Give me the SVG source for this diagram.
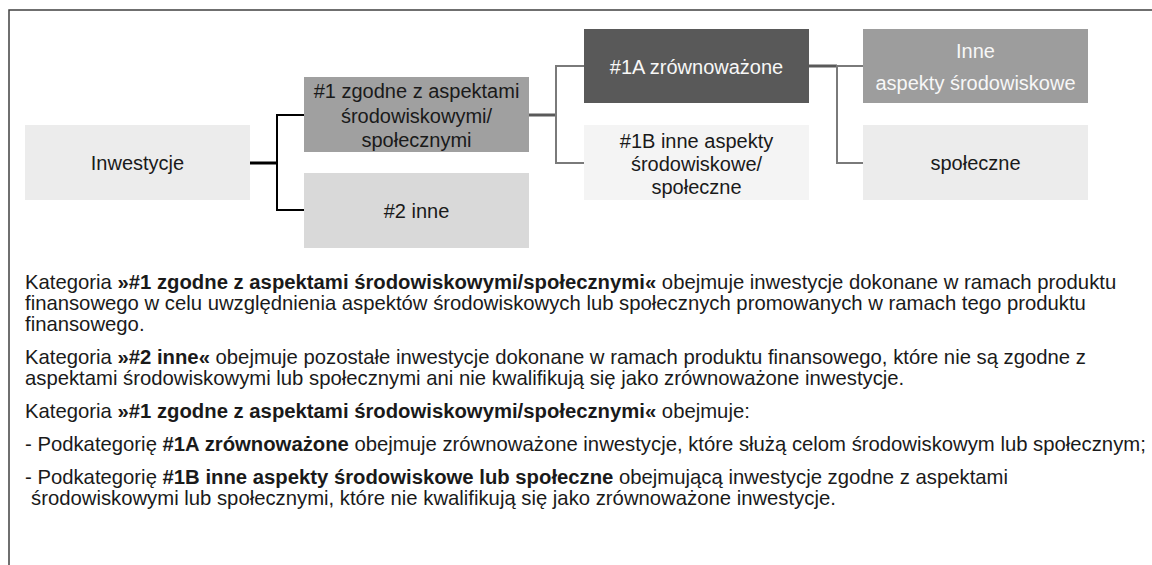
<svg xmlns="http://www.w3.org/2000/svg" width="1152" height="565" viewBox="0 0 1152 565">
<style>
.n{font-family:"Liberation Sans",Arial,sans-serif;font-size:20px;fill:#1a1a1a;text-anchor:middle}
.w{fill:#f7f7f7}
.p{font-family:"Liberation Sans",Arial,sans-serif;font-size:20.3px;fill:#1a1a1a}
.b{font-weight:bold}
.stub{stroke-width:3;fill:none}
.br{stroke-width:2;fill:none}
</style>
<rect width="1152" height="565" fill="#ffffff"/>
<path d="M9 565 V10 H1152" fill="none" stroke="#404040" stroke-width="1.5"/>
<g id="connectors">
<line class="stub" x1="250" y1="163" x2="277" y2="163" stroke="#000"/>
<path class="br" d="M304 115 H277 V210 H304" stroke="#000"/>
<line class="stub" x1="529" y1="115" x2="556" y2="115" stroke="#595959"/>
<path class="br" d="M584 66 H556 V163 H584" stroke="#7a7a7a"/>
<line class="stub" x1="809" y1="66" x2="837" y2="66" stroke="#595959"/>
<path class="br" d="M863 66 H837 V163 H863" stroke="#7a7a7a"/>
</g>
<g id="inwestycje">
<rect x="25" y="125" width="225" height="75" fill="#ececec"/>
<text class="n" x="137.5" y="170">Inwestycje</text>
</g>
<g id="n1">
<rect x="304" y="77" width="225" height="75" fill="#a0a0a0"/>
<text class="n" x="416.5" y="98">#1 zgodne z aspektami</text>
<text class="n" x="416.5" y="123">środowiskowymi/</text>
<text class="n" x="416.5" y="147">społecznymi</text>
</g>
<g id="n2">
<rect x="304" y="173" width="225" height="75" fill="#d9d9d9"/>
<text class="n" x="416.5" y="218">#2 inne</text>
</g>
<g id="n1a">
<rect x="584" y="29" width="225" height="74" fill="#595959"/>
<text class="n w" x="696.5" y="74">#1A zrównoważone</text>
</g>
<g id="n1b">
<rect x="584" y="125" width="225" height="75" fill="#f4f4f4"/>
<text class="n" x="696.5" y="148">#1B inne aspekty</text>
<text class="n" x="696.5" y="171">środowiskowe/</text>
<text class="n" x="696.5" y="194">społeczne</text>
</g>
<g id="inne">
<rect x="863" y="29" width="225" height="74" fill="#9d9d9d"/>
<text class="n w" x="975.5" y="58">Inne</text>
<text class="n w" x="975.5" y="90">aspekty środowiskowe</text>
</g>
<g id="spoleczne">
<rect x="863" y="125" width="225" height="75" fill="#ececec"/>
<text class="n" x="975.5" y="170">społeczne</text>
</g>
<g id="text">
<text class="p" x="25" y="289">Kategoria <tspan class="b">»#1 zgodne z aspektami środowiskowymi/społecznymi«</tspan> obejmuje inwestycje dokonane w ramach produktu</text>
<text class="p" x="25" y="310">finansowego w celu uwzględnienia aspektów środowiskowych lub społecznych promowanych w ramach tego produktu</text>
<text class="p" x="25" y="331">finansowego.</text>
<text class="p" x="25" y="364">Kategoria <tspan class="b">»#2 inne«</tspan> obejmuje pozostałe inwestycje dokonane w ramach produktu finansowego, które nie są zgodne z</text>
<text class="p" x="25" y="385">aspektami środowiskowymi lub społecznymi ani nie kwalifikują się jako zrównoważone inwestycje.</text>
<text class="p" x="25" y="418">Kategoria <tspan class="b">»#1 zgodne z aspektami środowiskowymi/społecznymi«</tspan> obejmuje:</text>
<text class="p" x="25" y="451">- Podkategorię <tspan class="b">#1A zrównoważone</tspan> obejmuje zrównoważone inwestycje, które służą celom środowiskowym lub społecznym;</text>
<text class="p" x="25" y="484">- Podkategorię <tspan class="b">#1B inne aspekty środowiskowe lub społeczne</tspan> obejmującą inwestycje zgodne z aspektami</text>
<text class="p" x="31" y="505">środowiskowymi lub społecznymi, które nie kwalifikują się jako zrównoważone inwestycje.</text>
</g>
</svg>
